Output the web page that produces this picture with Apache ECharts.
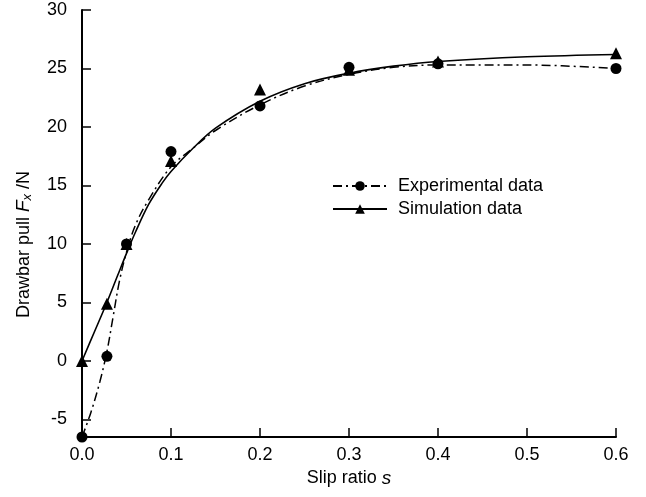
<!DOCTYPE html>
<html>
<head>
<meta charset="utf-8">
<script src="https://cdn.jsdelivr.net/npm/echarts@6/dist/echarts.min.js"></script>
<style>html,body{margin:0;padding:0;background:#fff;}#c{width:646px;height:497px;}</style>
</head>
<body>
<div id="c"></div>
<script>
// Measured points
var slipPoints = [0, 0.028, 0.05, 0.1, 0.2, 0.3, 0.4, 0.6];
var expPull = [-6.5, 0.4, 10.0, 17.9, 21.8, 25.1, 25.4, 25.0];
var simPull = [0, 4.9, 10.0, 17.1, 23.2, 24.9, 25.6, 26.3];
// Fitted curves
var simCurveS = [0, 0.014, 0.028, 0.04, 0.05, 0.06, 0.075, 0.09, 0.1, 0.125, 0.15, 0.2, 0.25, 0.3, 0.35, 0.4, 0.5, 0.6];
var simCurveF = [0, 2.5, 5.0, 7.3, 9.2, 11.0, 13.4, 15.2, 16.2, 18.2, 19.9, 22.2, 23.7, 24.6, 25.2, 25.6, 26.0, 26.2];
var expCurveS = [0, 0.01, 0.02, 0.028, 0.035, 0.042, 0.05, 0.06, 0.075, 0.1, 0.125, 0.15, 0.2, 0.25, 0.3, 0.35, 0.4, 0.5, 0.6];
var expCurveF = [-6.5, -4.4, -1.8, 0.8, 3.8, 6.8, 9.3, 11.6, 13.8, 16.6, 18.2, 19.7, 21.9, 23.5, 24.5, 25.1, 25.3, 25.3, 25.0];
// Ticks
var xTicks = [0, 0.1, 0.2, 0.3, 0.4, 0.5, 0.6];
var yTicks = [-5, 0, 5, 10, 15, 20, 25, 30];
var seriesNames = ['Experimental data', 'Simulation data'];

function zip(a, b) { return a.map(function (v, i) { return [v, b[i]]; }); }

var font = 'Liberation Sans, Arial, sans-serif';
var chart = echarts.init(document.getElementById('c'), null, { renderer: 'canvas' });
chart.setOption({
  animation: false,
  backgroundColor: '#fff',
  grid: { left: 82, right: 30, top: 10, bottom: 60, containLabel: false },
  legend: {
    data: seriesNames,
    orient: 'vertical',
    left: 327, top: 172,
    itemWidth: 54, itemHeight: 12, itemGap: 5,
    textStyle: { fontFamily: font, fontSize: 18, color: '#000', padding: [0, 0, 0, 6] }
  },
  xAxis: {
    type: 'value', min: 0, max: 0.6,
    name: 'Slip ratio {i|s}',
    nameLocation: 'middle', nameGap: 32,
    nameTextStyle: { fontFamily: font, fontSize: 18, color: '#000',
      rich: { i: { fontFamily: font, fontSize: 19, fontStyle: 'italic', color: '#000' } } },
    axisLine: { onZero: false, lineStyle: { color: '#000', width: 2 } },
    axisTick: { inside: true, length: 9, customValues: xTicks, lineStyle: { color: '#000', width: 1.5 } },
    axisLabel: { customValues: xTicks, margin: 9, fontFamily: font, fontSize: 18, color: '#000',
      formatter: function (v) { return v.toFixed(1); } },
    splitLine: { show: false }
  },
  yAxis: {
    type: 'value', min: -6.5, max: 30,
    name: 'Drawbar pull {i|F}{s|x} /N',
    nameLocation: 'middle', nameGap: 48,
    nameTextStyle: { fontFamily: font, fontSize: 18, color: '#000', padding: [0, 42, 0, 0],
      rich: {
        i: { fontFamily: font, fontSize: 19, fontStyle: 'italic', color: '#000' },
        s: { fontFamily: font, fontSize: 13, fontStyle: 'italic', color: '#000', verticalAlign: 'bottom', padding: [7, 0, 0, 0] }
      } },
    axisLine: { lineStyle: { color: '#000', width: 2 } },
    axisTick: { inside: true, length: 9, customValues: yTicks, lineStyle: { color: '#000', width: 1.5 } },
    axisLabel: { customValues: yTicks, margin: 15, fontFamily: font, fontSize: 18, color: '#000' },
    splitLine: { show: false }
  },
  series: [
    {
      name: seriesNames[0], type: 'line', smooth: 0.35,
      data: zip(expCurveS, expCurveF),
      symbol: 'circle', symbolSize: 10, showSymbol: false,
      itemStyle: { color: '#000' },
      lineStyle: { color: '#000', width: 1.5, type: [9, 4, 2, 4] },
      z: 2
    },
    {
      name: seriesNames[1], type: 'line', smooth: 0.35,
      data: zip(simCurveS, simCurveF),
      symbol: 'triangle', symbolSize: 12, showSymbol: false,
      itemStyle: { color: '#000' },
      lineStyle: { color: '#000', width: 1.6 },
      z: 2
    },
    {
      name: 'expPts', type: 'scatter', data: zip(slipPoints, expPull),
      symbol: 'circle', symbolSize: 11, itemStyle: { color: '#000', opacity: 1 }, z: 3
    },
    {
      name: 'simPts', type: 'scatter', data: zip(slipPoints, simPull),
      symbol: 'triangle', symbolSize: 12, itemStyle: { color: '#000', opacity: 1 }, z: 3
    }
  ]
});
</script>
</body>
</html>
